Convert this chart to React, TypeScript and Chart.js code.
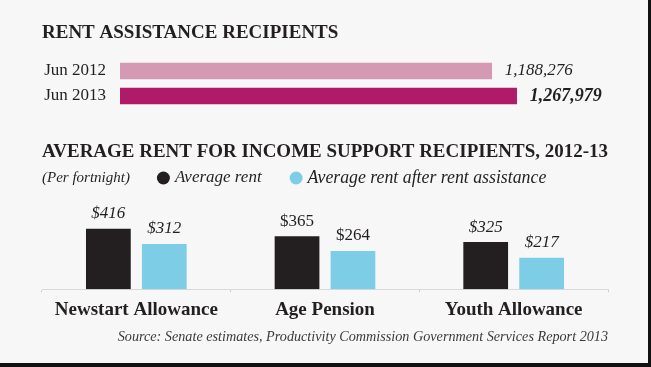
import React, { useEffect, useRef } from "react";
import { Chart, registerables } from "chart.js";

Chart.register(...registerables);

// ---- data ----
const periods = ["Jun 2012", "Jun 2013"];
const recipients = [1188276, 1267979];

const benefits = ["Newstart Allowance", "Age Pension", "Youth Allowance"];
const averageRent = [416, 365, 325];
const rentAfterAssistance = [312, 264, 217];
const seriesNames = ["Average rent", "Average rent after rent assistance"];

const topTitle = "RENT ASSISTANCE RECIPIENTS";
const bottomTitle = "AVERAGE RENT FOR INCOME SUPPORT RECIPIENTS, 2012-13";
const unitNote = "(Per fortnight)";
const sourceNote =
  "Source: Senate estimates, Productivity Commission Government Services Report 2013";

// ---- styles ----
const FONT = "'Liberation Serif', 'Times New Roman', serif";
const INK = "#231f20";
const BG = "#f7f7f7";
const PINK = "#d59ab3";
const MAGENTA = "#b01a6b";
const DARK = "#231f20";
const BLUE = "#7ecde6";
const recipientFonts = [
  { style: "italic", weight: "normal", size: 17 },
  { style: "italic", weight: "bold", size: 18 },
];
const rentLabelItalic = [true, false, true];

const topValueLabels = {
  id: "topValueLabels",
  afterDatasetsDraw(chart: any) {
    const ctx = chart.ctx;
    const meta = chart.getDatasetMeta(0);
    const ds = chart.data.datasets[0];
    ctx.save();
    meta.data.forEach((el: any, i: number) => {
      const f = recipientFonts[i];
      ctx.font = `${f.style} ${f.weight} ${f.size}px ${FONT}`;
      ctx.fillStyle = INK;
      ctx.textAlign = "left";
      ctx.textBaseline = "middle";
      ctx.fillText(Number(ds.data[i]).toLocaleString("en-US"), el.x + 13, el.y);
    });
    ctx.restore();
  },
};

const rentValueLabels = {
  id: "rentValueLabels",
  afterDatasetsDraw(chart: any) {
    const ctx = chart.ctx;
    ctx.save();
    chart.data.datasets.forEach((ds: any, di: number) => {
      const meta = chart.getDatasetMeta(di);
      meta.data.forEach((el: any, i: number) => {
        ctx.font = `${rentLabelItalic[i] ? "italic " : ""}17px ${FONT}`;
        ctx.fillStyle = INK;
        ctx.textAlign = "center";
        ctx.textBaseline = "middle";
        ctx.fillText("$" + ds.data[i], el.x, el.y - 15);
      });
    });
    ctx.restore();
  },
};

const customLegend = {
  id: "customLegend",
  afterDraw(chart: any) {
    const ctx = chart.ctx;
    const y = 58;
    let x = chart.chartArea.left;
    ctx.save();
    ctx.textBaseline = "middle";
    ctx.textAlign = "left";
    ctx.fillStyle = INK;
    ctx.font = `italic 15px ${FONT}`;
    ctx.fillText(unitNote, x, y);
    x += ctx.measureText(unitNote).width;
    chart.data.datasets.forEach((ds: any, i: number) => {
      x += i === 0 ? 27 : 28;
      ctx.beginPath();
      ctx.fillStyle = ds.backgroundColor;
      ctx.arc(x + 6.5, y, 6.5, 0, Math.PI * 2);
      ctx.fill();
      x += 13 + 5;
      ctx.fillStyle = INK;
      ctx.font = `italic ${i === 0 ? 17 : 17.8}px ${FONT}`;
      ctx.fillText(ds.label, x, y);
      x += ctx.measureText(ds.label).width;
    });
    ctx.restore();
  },
};

export default function App() {
  const topRef = useRef<HTMLCanvasElement>(null);
  const bottomRef = useRef<HTMLCanvasElement>(null);

  useEffect(() => {
    const top = new Chart(topRef.current as HTMLCanvasElement, {
      type: "bar",
      data: {
        labels: periods,
        datasets: [
          {
            data: recipients,
            backgroundColor: [PINK, MAGENTA],
            barThickness: 16,
          },
        ],
      },
      options: {
        indexAxis: "y",
        responsive: false,
        animation: false,
        layout: { padding: { left: 42, right: 40, top: 0, bottom: 11.5 } },
        scales: {
          x: { display: false, min: 0, max: 1560000 },
          y: {
            grid: { display: false, drawTicks: false },
            border: { display: false },
            ticks: {
              padding: 14,
              color: INK,
              font: { family: FONT, size: 17 },
            },
            afterFit: (s: any) => {
              s.width = 78;
              s.paddingTop = 0;
              s.paddingBottom = 0;
            },
          },
        },
        plugins: {
          legend: { display: false },
          tooltip: { enabled: false },
          title: {
            display: true,
            text: topTitle,
            align: "start",
            color: INK,
            font: { family: FONT, size: 19, weight: "bold" },
            padding: { top: 21.6, bottom: 14.1 },
          },
        },
      } as any,
      plugins: [topValueLabels],
    });

    const bottom = new Chart(bottomRef.current as HTMLCanvasElement, {
      type: "bar",
      data: {
        labels: benefits,
        datasets: [
          { label: seriesNames[0], data: averageRent, backgroundColor: DARK },
          { label: seriesNames[1], data: rentAfterAssistance, backgroundColor: BLUE },
        ],
      },
      options: {
        responsive: false,
        animation: false,
        datasets: { bar: { categoryPercentage: 0.593, barPercentage: 0.8 } },
        layout: { padding: { left: 42, right: 40, top: 0, bottom: 0 } },
        scales: {
          y: { display: false, min: 0, max: 600 },
          x: {
            grid: { drawOnChartArea: false, color: "#cfcfcf", tickLength: 3 },
            border: { color: "#d8d8d8", width: 1 },
            ticks: {
              padding: 6,
              color: INK,
              font: { family: FONT, size: 19, weight: "bold" },
            },
          },
        },
        plugins: {
          legend: { display: false },
          tooltip: { enabled: false },
          title: {
            display: true,
            text: bottomTitle,
            align: "start",
            color: INK,
            font: { family: FONT, size: 19.1, weight: "bold" },
            padding: { top: 20.6, bottom: 38.6 },
          },
          subtitle: {
            display: true,
            text: sourceNote,
            position: "bottom",
            align: "end",
            color: "#3a3a3a",
            font: { family: FONT, size: 14.2, style: "italic" },
            padding: { top: 1.3, bottom: 17.6 },
          },
        },
      } as any,
      plugins: [rentValueLabels, customLegend],
    });

    return () => {
      top.destroy();
      bottom.destroy();
    };
  }, []);

  return (
    <div
      style={{
        position: "fixed",
        left: 0,
        top: 0,
        width: 651,
        height: 367,
        boxSizing: "border-box",
        borderRight: "3px solid #111",
        borderBottom: "4px solid #111",
        background: BG,
        overflow: "hidden",
      }}
    >
      <canvas
        ref={topRef}
        width={648}
        height={120}
        style={{ position: "absolute", left: 0, top: 0, display: "block" }}
      />
      <canvas
        ref={bottomRef}
        width={648}
        height={243}
        style={{ position: "absolute", left: 0, top: 120, display: "block" }}
      />
    </div>
  );
}
